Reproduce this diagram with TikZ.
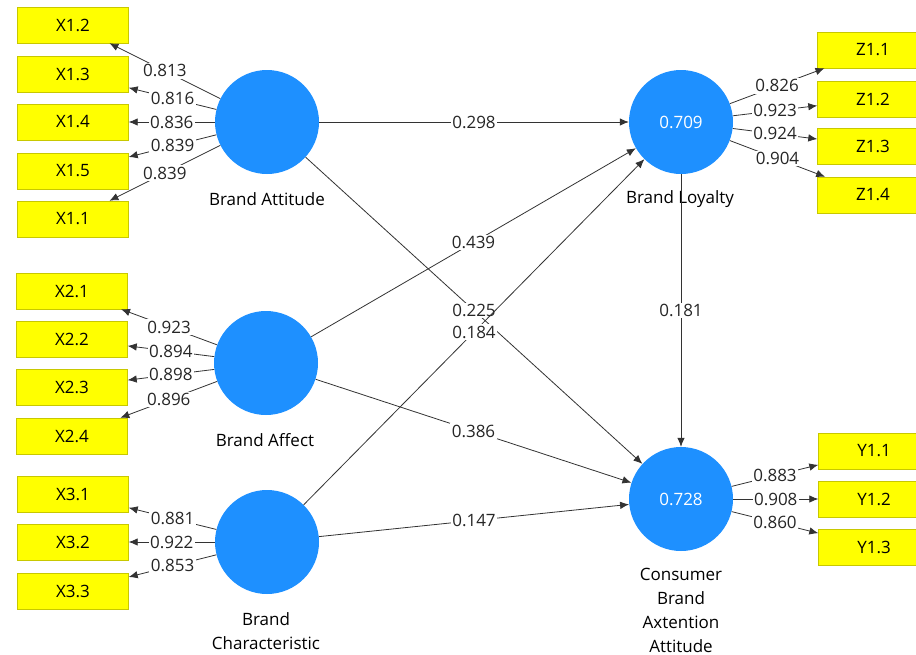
\documentclass[tikz,border=0pt]{standalone}
\usepackage{fontspec}
\setmainfont{Open Sans}
\usetikzlibrary{arrows.meta}
\definecolor{plsblue}{RGB}{30,144,255}
\definecolor{plsyellow}{RGB}{255,255,0}
\definecolor{plsedge}{RGB}{200,200,0}

\begin{document}
\begin{tikzpicture}[x=1pt, y=-1pt, >={Latex[length=9pt,width=7.5pt]},
    font=\fontsize{17}{24}\selectfont,
    lv/.style = {circle, fill=plsblue, minimum size=104pt, inner sep=0pt, text=white},
    mv/.style = {draw=plsedge, fill=plsyellow, minimum width=111pt, minimum height=36pt, inner sep=0pt},
    rel/.style = {->, draw=black!80, line width=0.8pt},
    lbl/.style = {fill=white, inner sep=1.5pt, text=black!85}]
    \path[use as bounding box, fill=white] (0,0) rectangle (916,654);
    \clip (0,0) rectangle (916,654);
    % latent variables
    \node[lv] (att) at (267,122) {};
    \node[lv] (aff) at (266,363) {};
    \node[lv] (chr) at (267,542) {};
    \node[lv] (loy) at (681,122) {0.709};
    \node[lv] (cba) at (681,499) {0.728};
    \node (attL) at (267,199) {Brand Attitude};
    \node (affL) at (265,440) {Brand Affect};
    \node[align=center] (chrL) at (266,631) {Brand\\Characteristic};
    \node (loyL) at (680,199) {Brand Loyalty};
    \node[align=center] (cbaL) at (681,610) {Consumer\\Brand\\Axtention\\Attitude};
    % indicators
    \node[mv] (x12) at (73,25) {X1.2};
    \node[mv] (x13) at (73,74) {X1.3};
    \node[mv] (x14) at (73,122) {X1.4};
    \node[mv] (x15) at (73,171) {X1.5};
    \node[mv] (x11) at (73,219) {X1.1};
    \node[mv] (x21) at (72,291) {X2.1};
    \node[mv] (x22) at (72,339) {X2.2};
    \node[mv] (x23) at (72,387) {X2.3};
    \node[mv] (x24) at (72,436) {X2.4};
    \node[mv] (x31) at (73,494) {X3.1};
    \node[mv] (x32) at (73,542) {X3.2};
    \node[mv] (x33) at (73,591) {X3.3};
    \node[mv] (z11) at (873,50) {Z1.1};
    \node[mv] (z12) at (873,99) {Z1.2};
    \node[mv] (z13) at (873,146) {Z1.3};
    \node[mv] (z14) at (873,195) {Z1.4};
    \node[mv] (y11) at (874,451) {Y1.1};
    \node[mv] (y12) at (874,499) {Y1.2};
    \node[mv] (y13) at (874,547) {Y1.3};
    % outer loadings
    \draw[rel] (att) -- node[lbl] {0.813} (x12);
    \draw[rel] (att) -- node[lbl] {0.816} (x13);
    \draw[rel] (att) -- node[lbl] {0.836} (x14);
    \draw[rel] (att) -- node[lbl] {0.839} (x15);
    \draw[rel] (att) -- node[lbl] {0.839} (x11);
    \draw[rel] (aff) -- node[lbl] {0.923} (x21);
    \draw[rel] (aff) -- node[lbl] {0.894} (x22);
    \draw[rel] (aff) -- node[lbl] {0.898} (x23);
    \draw[rel] (aff) -- node[lbl] {0.896} (x24);
    \draw[rel] (chr) -- node[lbl] {0.881} (x31);
    \draw[rel] (chr) -- node[lbl] {0.922} (x32);
    \draw[rel] (chr) -- node[lbl] {0.853} (x33);
    \draw[rel] (loy) -- node[lbl] {0.826} (z11);
    \draw[rel] (loy) -- node[lbl] {0.923} (z12);
    \draw[rel] (loy) -- node[lbl] {0.924} (z13);
    \draw[rel] (loy) -- node[lbl] {0.904} (z14);
    \draw[rel] (cba) -- node[lbl] {0.883} (y11);
    \draw[rel] (cba) -- node[lbl] {0.908} (y12);
    \draw[rel] (cba) -- node[lbl] {0.860} (y13);
    % path coefficients
    \draw[rel] (att) -- node[lbl] {0.298} (loy);
    \draw[rel] (att) -- node[lbl] {0.225} (cba);
    \draw[rel] (aff) -- node[lbl] {0.439} (loy);
    \draw[rel] (chr) -- node[lbl] {0.184} (loy);
    \draw[rel] (aff) -- node[lbl] {0.386} (cba);
    \draw[rel] (chr) -- node[lbl] {0.147} (cba);
    \draw[rel] (loy) -- node[lbl] {0.181} (cba);
\end{tikzpicture}
\end{document}
